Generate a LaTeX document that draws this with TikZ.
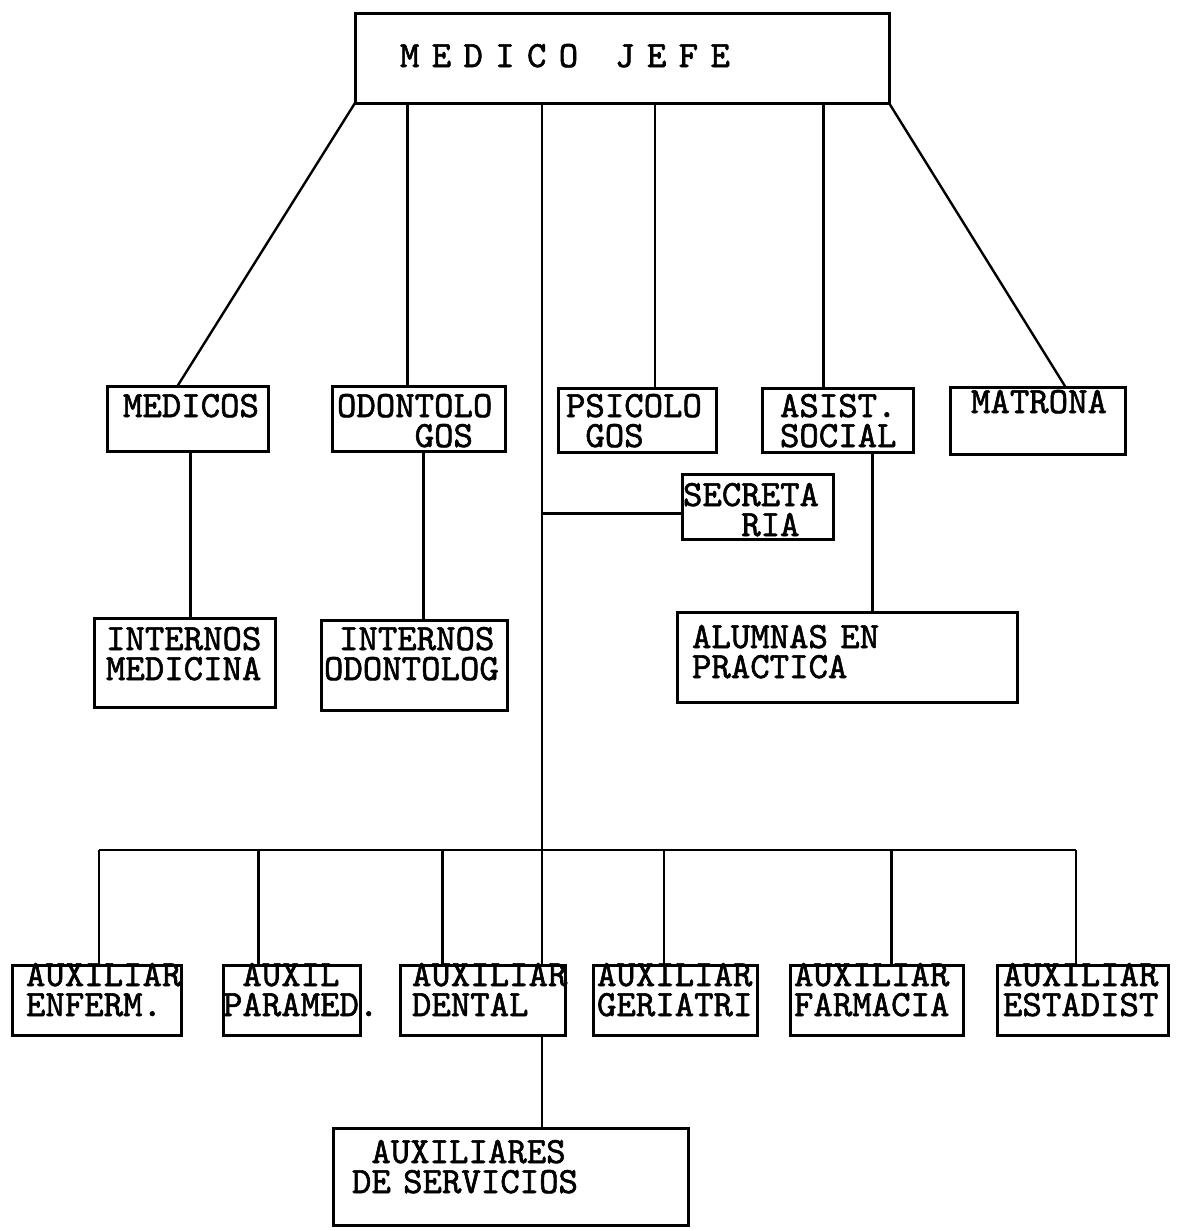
\documentclass[tikz,border=0pt]{standalone}
\usepackage{fontspec}
\setmonofont{lmmono10-regular.otf}[AutoFakeBold=1.6]
\usetikzlibrary{positioning}
\hyphenpenalty=10000
\exhyphenpenalty=10000

\tikzset{
  unit/.style={draw, line width=3pt, anchor=north west, align=left,
    inner sep=0pt, outer sep=0pt,
    font={\ttfamily\bfseries\fontsize{37}{30}\selectfont}},
  link/.style={line width=2.4pt},
}

\begin{document}
\begin{tikzpicture}[x=1pt, y=-1pt]
    \useasboundingbox (0,0) rectangle (1181,1231);

    % head
    \node [unit, minimum width=534, text width=444, text height=53, text depth=36] (jefe) at (355,14) {M E D I C O\ \ \ J E F E};

    % second row
    \node [unit, minimum width=161, text width=129, text height=31, text depth=34] (medicos) at (107,386) {MEDICOS};
    \node [unit, minimum width=173, text width=163, text height=31, text depth=34] (odonto) at (332,386) {ODONTOLO\\\phantom{0000}GOS};
    \node [unit, minimum width=158, text width=142, text height=29, text depth=35] (psico) at (558,388) {PSICOLO\\\phantom{0}GOS};
    \node [unit, minimum width=151, text width=115, text height=29, text depth=35] (asist) at (762,388) {ASIST.\\SOCIAL};
    \node [unit, minimum width=175, text width=133, text height=26, text depth=41] (matrona) at (950,387) {MATRONA};
    \node [unit, minimum width=151, text width=149, text height=32, text depth=33] (secretaria) at (682,474) {SECRETA\\\phantom{000}RIA};

    % third row
    \node [unit, minimum width=181, text width=157, text height=32, text depth=57] (intmed) at (94,618) {INTERNOS\\MEDICINA};
    \node [unit, minimum width=186, text width=180, text height=30, text depth=60] (intodo) at (321,620) {\hspace*{15pt}INTERNOS\\ODONTOLOG};
    \node [unit, minimum width=340, text width=310, text height=36, text depth=54] (alumnas) at (677,612) {ALUMNAS EN\\PRACTICA};

    % auxiliares
    \node [unit, minimum width=169, text width=141, text height=21, text depth=49] (enferm) at (12,965) {AUXILIAR\\ENFERM.};
    \node [unit, minimum width=137, text width=137, text height=21, text depth=49] (paramed) at (223,965) {\phantom{0}AUXIL\\PARAMED.};
    \node [unit, minimum width=165, text width=141, text height=21, text depth=49] (dental) at (400,965) {AUXILIAR\\DENTAL};
    \node [unit, minimum width=164, text width=156, text height=21, text depth=49] (geriatri) at (593,965) {AUXILIAR\\GERIATRI};
    \node [unit, minimum width=173, text width=165, text height=21, text depth=49] (farmacia) at (790,965) {AUXILIAR\\FARMACIA};
    \node [unit, minimum width=171, text width=159, text height=21, text depth=49] (estadist) at (997,965) {AUXILIAR\\ESTADIST};
    \node [unit, minimum width=355, text width=317, text height=35, text depth=62] (servicios) at (333,1128) {\phantom{0}AUXILIARES\\DE SERVICIOS};

    \coordinate (bus west) at (99,850);
    \coordinate (bus east) at (1076,850);
    \coordinate (trunk) at (542,850);

    % from the head
    \draw [link] (jefe.south west) -- ([xshift=-10pt]medicos.north);
    \draw [link] ([xshift=-11pt]odonto.north) -- ([xshift=-11pt]odonto.north |- jefe.south);
    \draw [link] (jefe.south -| trunk) -- (dental.north -| trunk);
    \draw [link] ([xshift=18pt]psico.north) -- ([xshift=18pt]psico.north |- jefe.south);
    \draw [link] ([xshift=-14pt]asist.north) -- ([xshift=-14pt]asist.north |- jefe.south);
    \draw [link] (jefe.south east) -- ([xshift=28pt]matrona.north);

    \draw [link] ([xshift=3pt]medicos.south) -- ([xshift=3pt]medicos.south |- intmed.north);
    \draw [link] ([xshift=5pt]odonto.south) -- ([xshift=5pt]odonto.south |- intodo.north);
    \draw [link] ([xshift=35pt]asist.south) -- ([xshift=35pt]asist.south |- alumnas.north);
    \draw [link] ([yshift=-7pt]secretaria.west) -- ([yshift=-7pt]secretaria.west -| trunk);

    % bus
    \draw [link] (bus west) -- (bus east);
    \draw [link] (bus west) -- (bus west |- enferm.north);
    \draw [link] ([xshift=-33pt]paramed.north) -- ([xshift=-33pt]paramed.north |- trunk);
    \draw [link] ([xshift=-40pt]dental.north) -- ([xshift=-40pt]dental.north |- trunk);
    \draw [link] ([xshift=-11pt]geriatri.north) -- ([xshift=-11pt]geriatri.north |- trunk);
    \draw [link] ([xshift=15pt]farmacia.north) -- ([xshift=15pt]farmacia.north |- trunk);
    \draw [link] (bus east) -- (bus east |- estadist.north);

    \draw [link] (dental.south -| trunk) -- (servicios.north -| trunk);

\end{tikzpicture}
\end{document}
